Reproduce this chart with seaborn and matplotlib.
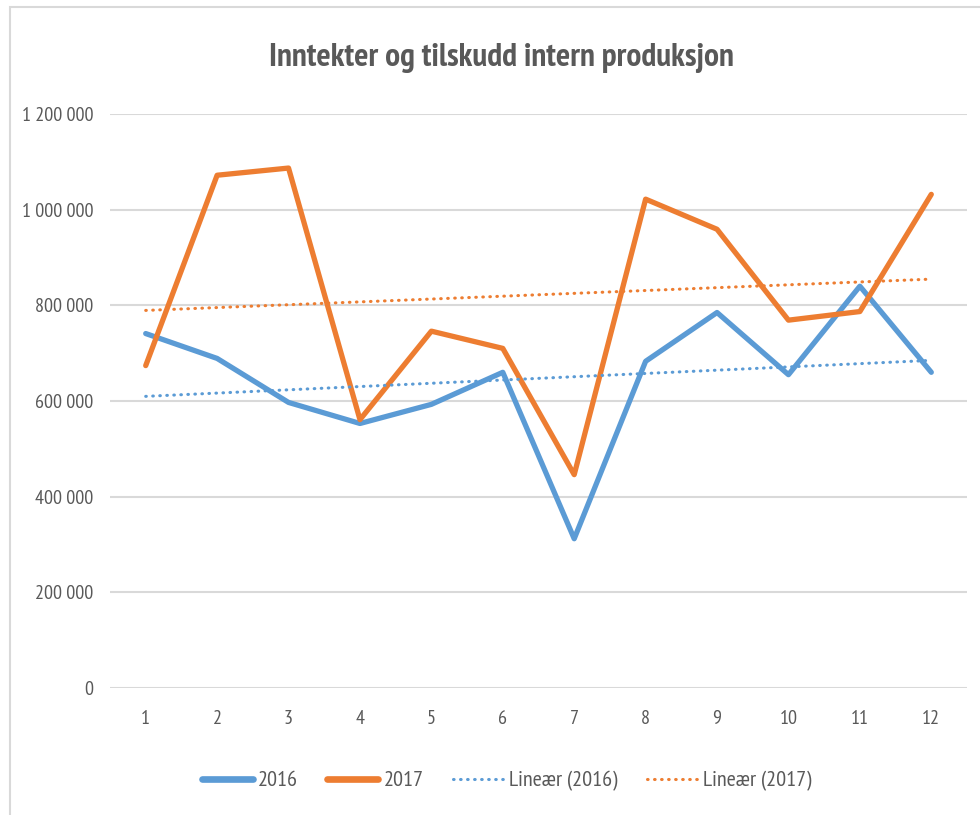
import numpy as np
import pandas as pd
import seaborn as sns
import matplotlib.pyplot as plt
from matplotlib.ticker import FuncFormatter
from matplotlib.patches import Rectangle

months = list(range(1, 13))
values_2016 = [741000, 689000, 597000, 553000, 593000, 660000,
               312000, 683000, 785000, 655000, 840000, 660000]
values_2017 = [674000, 1072000, 1087000, 561000, 746000, 710000,
               446000, 1022000, 959000, 769000, 787000, 1032000]
years = ["2016", "2017"]
colors = {"2016": "#5B9BD5", "2017": "#ED7D31"}

df = pd.DataFrame({
    "month": months * 2,
    "value": values_2016 + values_2017,
    "year": ["2016"] * 12 + ["2017"] * 12,
})

sns.set_theme(style="white")
plt.rcParams["font.family"] = ["PT Sans Narrow", "Carlito", "DejaVu Sans"]
text_color = "#595959"
dots = (0, (0.2, 2.1))

fig = plt.figure(figsize=(9.8, 8.15), dpi=100)
fig.patches.append(Rectangle((10 / 980, -0.1), 1.2, 1.1 - 7 / 815,
                             transform=fig.transFigure, fill=False,
                             edgecolor="#d9d9d9", linewidth=1.5))
ax = fig.add_axes([110 / 980, 1 - 688 / 815, (967 - 110) / 980, (688 - 114) / 815])

sns.lineplot(data=df, x="month", y="value", hue="year", palette=colors,
             linewidth=3.8, ax=ax, legend=False)
# Excel-style linear trendlines
for yr in years:
    sub = df[df["year"] == yr]
    sns.regplot(data=sub, x="month", y="value", scatter=False, ci=None, ax=ax,
                line_kws={"color": colors[yr], "linestyle": dots,
                          "linewidth": 2.2, "dash_capstyle": "round"})

ax.set_xlim(0.5, 12.5)
ax.set_ylim(0, 1200000)
ax.set_xticks(months)
ax.set_yticks(np.arange(0, 1200001, 200000))
ax.yaxis.set_major_formatter(FuncFormatter(lambda v, p: f"{int(v):,}".replace(",", " ")))
ax.grid(axis="y", color="#d9d9d9", linewidth=1.5)
ax.set_axisbelow(True)
for s in ax.spines.values():
    s.set_visible(False)
ax.tick_params(axis="both", length=0, labelsize=14.5, colors=text_color)
ax.tick_params(axis="y", pad=12)
ax.tick_params(axis="x", pad=16)
ax.set_xlabel("")
ax.set_ylabel("")

fig.text(0.512, 1 - 58 / 815, "Inntekter og tilskudd intern produksjon",
         ha="center", va="center", fontsize=24, fontweight="bold", color=text_color)

handles = [
    plt.Line2D([], [], color=colors["2016"], linewidth=4.8, solid_capstyle="round"),
    plt.Line2D([], [], color=colors["2017"], linewidth=4.8, solid_capstyle="round"),
    plt.Line2D([], [], color=colors["2016"], linewidth=2.2, linestyle=dots,
               dash_capstyle="round"),
    plt.Line2D([], [], color=colors["2017"], linewidth=2.2, linestyle=dots,
               dash_capstyle="round"),
]
labels = ["2016", "2017", "Lineær (2016)", "Lineær (2017)"]
fig.legend(handles, labels, loc="center", bbox_to_anchor=(0.517, 1 - 781 / 815),
           ncol=4, frameon=False, fontsize=16, labelcolor=text_color,
           handlelength=2.3, columnspacing=1.3, handletextpad=0.25)

fig.savefig("out.png", dpi=100)
